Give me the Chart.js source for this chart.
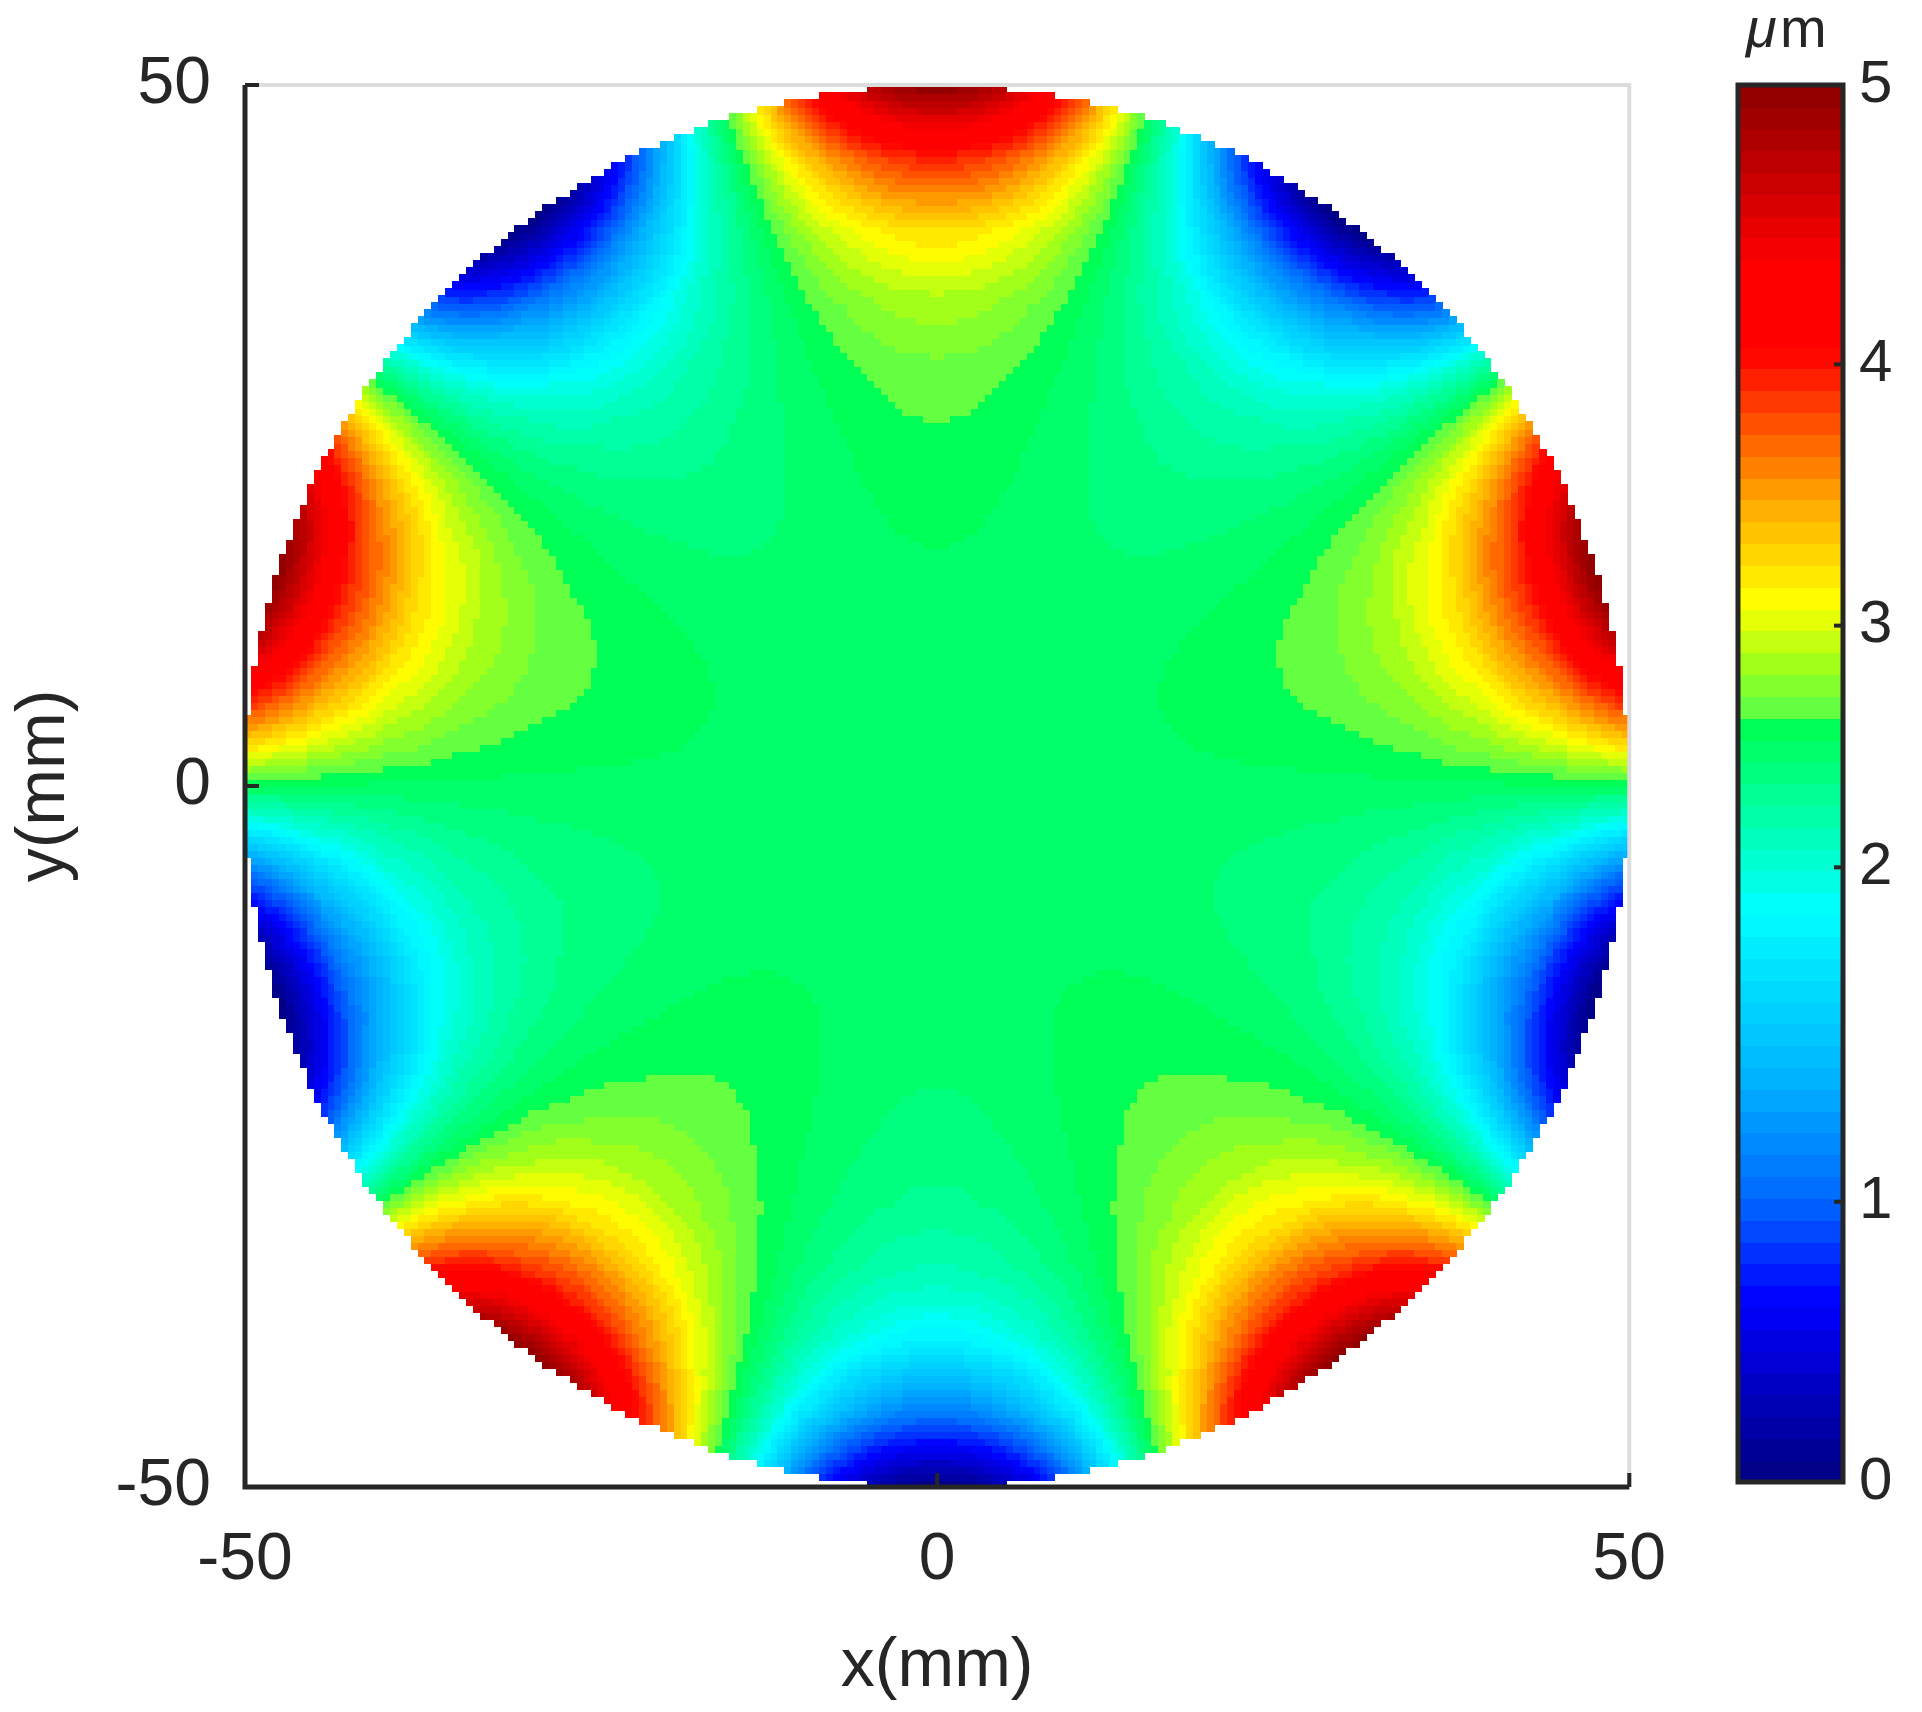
<!DOCTYPE html>
<html><head><meta charset="utf-8">
<script src="https://cdn.jsdelivr.net/npm/chart.js@4/dist/chart.umd.min.js"></script>
<style>body{margin:0;background:#fff;width:1922px;height:1712px;position:relative;overflow:hidden}
#c1{position:absolute;left:0;top:0}#c2{position:absolute;left:1700px;top:0}</style>
</head><body>
<canvas id="c1" width="1700" height="1712"></canvas>
<canvas id="c2" width="222" height="1712"></canvas>
<script>
// Data
const xTicks = [-50, 0, 50];
const yTicks = [-50, 0, 50];
const cbTickLabels = [0, 1, 2, 3, 4, 5];
const cbTickFrac   = [0, 0.2006, 0.44, 0.613, 0.80, 1];   // where each label sits along the colour bar
const apertureRadius = 50;           // mm
const gridStep = 0.5;                // mm sampling of the map
const rhoSamples  = [0, 0.1, 0.2, 0.3, 0.4, 0.5, 0.6, 0.7, 0.8, 0.9, 1.0];
const peakProfile = [2.5, 2.5, 2.5, 2.51, 2.55, 2.6, 2.68, 2.87, 3.25, 3.95, 5.0]; // µm along a crest
const lobeCount = 5;
const crestAngleDeg = 90;
const baseLevel = 2.5;
const colorLevels = 64;
// colour bar anchors (fraction along bar, r, g, b)
const cmapFrac = [0, 0.13, 0.2, 0.29, 0.41, 0.54, 0.55, 0.59, 0.63, 0.70, 0.81, 0.87, 1.0];
const cmapR    = [0,   0,   0,   0,   0,   0,  90, 170, 255, 255, 255, 255, 140];
const cmapG    = [0,   0, 100, 180, 255, 255, 255, 255, 255, 170,   0,   0,   0];
const cmapB    = [128,255,255, 255, 255,  85,  70,  20,   0,   0,   0,   0,   0];

function interp(xs, ys, x){
  if(x<=xs[0]) return ys[0];
  for(let i=0;i<xs.length-1;i++){
    if(x<=xs[i+1]){const t=(x-xs[i])/(xs[i+1]-xs[i]);return ys[i]+t*(ys[i+1]-ys[i]);}
  }
  return ys[ys.length-1];
}
function cmap(f){
  return `rgb(${Math.round(interp(cmapFrac,cmapR,f))},${Math.round(interp(cmapFrac,cmapG,f))},${Math.round(interp(cmapFrac,cmapB,f))})`;
}
const bandColors = Array.from({length:colorLevels},(_,k)=>cmap((k+0.5)/colorLevels));
function valueColor(z){
  const f = interp(cbTickLabels, cbTickFrac, z);
  let k = Math.floor(f*colorLevels); k=Math.max(0,Math.min(colorLevels-1,k));
  return bandColors[k];
}
const tickColor = '#262626';
const fam = 'Liberation Sans';

const mapPlugin = {
  id:'map',
  beforeDatasetsDraw(chart){
    const {ctx, scales:{x,y}} = chart;
    const n = Math.round(apertureRadius/gridStep);
    const ph = crestAngleDeg*Math.PI/180;
    for(let i=-n;i<n;i++){
      for(let j=-n;j<n;j++){
        const cx=(i+0.5)*gridStep, cy=(j+0.5)*gridStep;
        const r=Math.hypot(cx,cy);
        if(r>apertureRadius) continue;
        const rho=r/apertureRadius, th=Math.atan2(cy,cx);
        const amp=interp(rhoSamples,peakProfile,rho)-baseLevel;
        const z=baseLevel+amp*Math.cos(lobeCount*(th-ph));
        ctx.fillStyle=valueColor(z);
        const x0=x.getPixelForValue(i*gridStep), x1=x.getPixelForValue((i+1)*gridStep);
        const y0=y.getPixelForValue((j+1)*gridStep), y1=y.getPixelForValue(j*gridStep);
        ctx.fillRect(Math.floor(x0),Math.floor(y0),Math.ceil(x1-x0)+1,Math.ceil(y1-y0)+1);
      }
    }
  },
  afterDraw(chart){
    const {ctx, chartArea:a, scales:{x,y}} = chart;
    ctx.save();
    ctx.strokeStyle='#dcdcdc'; ctx.lineWidth=4;
    ctx.beginPath(); ctx.moveTo(a.left,a.top); ctx.lineTo(a.right,a.top); ctx.lineTo(a.right,a.bottom); ctx.stroke();
    ctx.strokeStyle='#262626'; ctx.lineWidth=5;
    ctx.beginPath(); ctx.moveTo(a.left,a.top); ctx.lineTo(a.left,a.bottom); ctx.lineTo(a.right,a.bottom); ctx.stroke();
    ctx.lineWidth=4;
    xTicks.forEach(v=>{const p=x.getPixelForValue(v);ctx.beginPath();ctx.moveTo(p,a.bottom);ctx.lineTo(p,a.bottom-14);ctx.stroke();});
    yTicks.forEach(v=>{const p=y.getPixelForValue(v);ctx.beginPath();ctx.moveTo(a.left,p);ctx.lineTo(a.left+14,p);ctx.stroke();});
    ctx.restore();
  }
};

new Chart(document.getElementById('c1'),{
  type:'scatter',
  data:{datasets:[{data:[]}]},
  options:{
    responsive:false, animation:false,
    layout:{padding:{top:85,right:48,left:0,bottom:0}},
    plugins:{legend:{display:false},tooltip:{enabled:false}},
    scales:{
      x:{type:'linear',min:-50,max:50,
        afterBuildTicks(s){s.ticks=xTicks.map(v=>({value:v}));},
        afterFit(s){s.height=225;},
        grid:{display:false,drawTicks:false}, border:{display:false},
        ticks:{font:{family:fam,size:66},color:tickColor,padding:34,maxRotation:0},
        title:{display:true,text:'x(mm)',font:{family:fam,size:68},color:tickColor,padding:{top:4}}},
      y:{type:'linear',min:-50,max:50,
        afterBuildTicks(s){s.ticks=yTicks.map(v=>({value:v}));},
        afterFit(s){s.width=245;},
        grid:{display:false,drawTicks:false}, border:{display:false},
        ticks:{font:{family:fam,size:66},color:tickColor,padding:34},
        title:{display:true,text:'y(mm)',font:{family:fam,size:68},color:tickColor,padding:{bottom:4}}}
    }
  },
  plugins:[mapPlugin]
});

const barPlugin = {
  id:'cbar',
  beforeDatasetsDraw(chart){
    const {ctx, chartArea:a, scales:{y}} = chart;
    for(let k=0;k<colorLevels;k++){
      const p0=y.getPixelForValue((k+1)/colorLevels), p1=y.getPixelForValue(k/colorLevels);
      ctx.fillStyle=bandColors[k];
      ctx.fillRect(a.left,Math.floor(p0),a.right-a.left,Math.ceil(p1-p0)+1);
    }
  },
  afterDraw(chart){
    const {ctx, chartArea:a, scales:{y}} = chart;
    ctx.save();
    ctx.strokeStyle='#262626'; ctx.lineWidth=5;
    ctx.strokeRect(a.left,a.top,a.right-a.left,a.bottom-a.top);
    ctx.lineWidth=4;
    cbTickFrac.forEach(v=>{const p=y.getPixelForValue(v);ctx.beginPath();ctx.moveTo(a.right,p);ctx.lineTo(a.right-9,p);ctx.stroke();});
    ctx.fillStyle=tickColor; ctx.textBaseline='alphabetic'; ctx.textAlign='left';
    ctx.font=`italic 56px "${fam}"`;
    ctx.fillText('μ',a.left+8,a.top-38);
    ctx.font=`56px "${fam}"`;
    ctx.fillText('m',a.left+42,a.top-38);
    ctx.restore();
  }
};

new Chart(document.getElementById('c2'),{
  type:'scatter',
  data:{datasets:[{data:[]}]},
  options:{
    responsive:false, animation:false,
    layout:{padding:{top:85,left:38,right:0,bottom:230}},
    plugins:{legend:{display:false},tooltip:{enabled:false}},
    scales:{
      x:{type:'linear',display:false,min:0,max:1},
      y:{type:'linear',position:'right',min:0,max:1,
        afterBuildTicks(s){s.ticks=cbTickFrac.map(v=>({value:v}));},
        afterFit(s){s.width=79;},
        grid:{display:false,drawTicks:false}, border:{display:false},
        ticks:{font:{family:fam,size:60},color:tickColor,padding:16,
          callback:(v)=>{const i=cbTickFrac.findIndex(f=>Math.abs(f-v)<1e-6);return i>=0?String(cbTickLabels[i]):'';}}}
    }
  },
  plugins:[barPlugin]
});
</script>
</body></html>
